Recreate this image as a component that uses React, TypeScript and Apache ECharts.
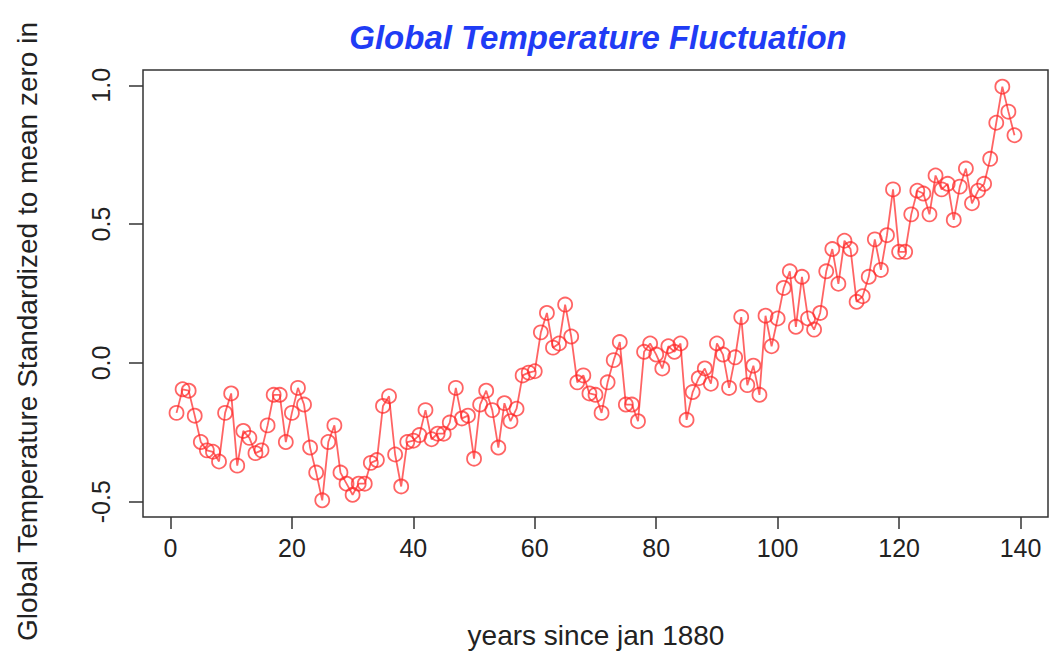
import React, { useEffect, useRef } from "react";
import * as echarts from "echarts";

const TITLE = "Global Temperature Fluctuation";
const X_TITLE = "years since jan 1880";
const Y_TITLE = "Global Temperature Standardized to mean zero in";

const X_TICKS = [0, 20, 40, 60, 80, 100, 120, 140];
const Y_TICKS = [-0.5, 0, 0.5, 1.0];

const TEMPS = [
  -0.18, -0.095, -0.1, -0.19, -0.285, -0.315, -0.32, -0.355, -0.18, -0.11,
  -0.37, -0.245, -0.27, -0.325, -0.315, -0.225, -0.115, -0.115, -0.285, -0.18,
  -0.09, -0.15, -0.305, -0.395, -0.495, -0.285, -0.225, -0.395, -0.435, -0.475,
  -0.435, -0.435, -0.36, -0.35, -0.155, -0.12, -0.33, -0.445, -0.285, -0.28,
  -0.26, -0.17, -0.275, -0.255, -0.255, -0.215, -0.09, -0.2, -0.19, -0.345,
  -0.15, -0.1, -0.17, -0.305, -0.145, -0.21, -0.165, -0.045, -0.035, -0.03,
  0.11, 0.18, 0.055, 0.07, 0.21, 0.095, -0.07, -0.045, -0.11, -0.115,
  -0.18, -0.07, 0.01, 0.075, -0.15, -0.15, -0.21, 0.04, 0.07, 0.03,
  -0.02, 0.06, 0.04, 0.07, -0.205, -0.105, -0.055, -0.02, -0.075, 0.07,
  0.03, -0.09, 0.02, 0.165, -0.08, -0.01, -0.115, 0.17, 0.06, 0.16,
  0.27, 0.33, 0.13, 0.31, 0.16, 0.12, 0.18, 0.33, 0.41, 0.285,
  0.44, 0.41, 0.22, 0.24, 0.31, 0.445, 0.335, 0.46, 0.625, 0.4,
  0.4, 0.535, 0.62, 0.61, 0.535, 0.675, 0.625, 0.645, 0.515, 0.635,
  0.7, 0.575, 0.62, 0.645, 0.735, 0.865, 0.995, 0.905, 0.82,
];
const YEARS_SINCE = TEMPS.map((_, i) => i + 1);

const FONT = "'Liberation Sans', Arial, Helvetica, sans-serif";

export default function App() {
  const ref = useRef<HTMLDivElement>(null);
  useEffect(() => {
    if (!ref.current) return;
    const chart = echarts.init(ref.current, undefined, { renderer: "svg" });
    const xMin = -4.52, xMax = 144.52;
    const yMin = -0.555, yMax = 1.055;
    chart.setOption({
      animation: false,
      backgroundColor: "#ffffff",
      grid: {
        left: 143,
        top: 70,
        width: 905,
        height: 447,
        show: true,
        borderColor: "#333333",
        borderWidth: 1.5,
        backgroundColor: "transparent",
      },
      xAxis: {
        type: "value",
        min: xMin,
        max: xMax,
        axisLine: { show: false, onZero: false },
        splitLine: { show: false },
        axisTick: {
          show: true,
          customValues: X_TICKS,
          inside: false,
          length: 12,
          lineStyle: { color: "#333333", width: 1.5 },
        },
        axisLabel: {
          customValues: X_TICKS,
          margin: 18,
          fontSize: 25,
          fontFamily: FONT,
          color: "#222222",
          formatter: (v: number) => String(v),
        },
      },
      yAxis: {
        type: "value",
        min: yMin,
        max: yMax,
        axisLine: { show: false, onZero: false },
        splitLine: { show: false },
        axisTick: {
          show: true,
          customValues: Y_TICKS,
          inside: false,
          length: 14,
          lineStyle: { color: "#333333", width: 1.5 },
        },
        axisLabel: {
          customValues: Y_TICKS,
          rotate: 90,
          margin: 30,
          fontSize: 25,
          fontFamily: FONT,
          color: "#222222",
          formatter: (v: number) => v.toFixed(1),
        },
      },
      graphic: [
        {
          type: "text",
          x: 598,
          y: 37,
          style: {
            text: TITLE,
            fontSize: 33,
            fontWeight: "bold",
            fontStyle: "italic",
            fontFamily: FONT,
            fill: "#1f3cf5",
            textAlign: "center",
            textVerticalAlign: "middle",
          },
        },
        {
          type: "text",
          x: 596,
          y: 635,
          style: {
            text: X_TITLE,
            fontSize: 28,
            fontFamily: FONT,
            fill: "#222222",
            textAlign: "center",
            textVerticalAlign: "middle",
          },
        },
        {
          type: "text",
          x: 27,
          y: 641,
          rotation: Math.PI / 2,
          style: {
            text: Y_TITLE,
            fontSize: 28,
            fontFamily: FONT,
            fill: "#222222",
            textAlign: "left",
            textVerticalAlign: "middle",
          },
        },
      ],
      series: [
        {
          type: "line",
          data: YEARS_SINCE.map((x, i) => [x, TEMPS[i]]),
          symbol: "circle",
          symbolSize: 14,
          showAllSymbol: true,
          lineStyle: { color: "rgba(255,40,40,0.72)", width: 1.8 },
          itemStyle: {
            color: "rgba(0,0,0,0)",
            borderColor: "rgba(255,40,40,0.72)",
            borderWidth: 1.8,
          },
          emphasis: { disabled: true },
        },
      ],
    });
    return () => chart.dispose();
  }, []);
  return (
    <div
      ref={ref}
      style={{ position: "fixed", left: 0, top: 0, width: 1051, height: 657 }}
    />
  );
}
